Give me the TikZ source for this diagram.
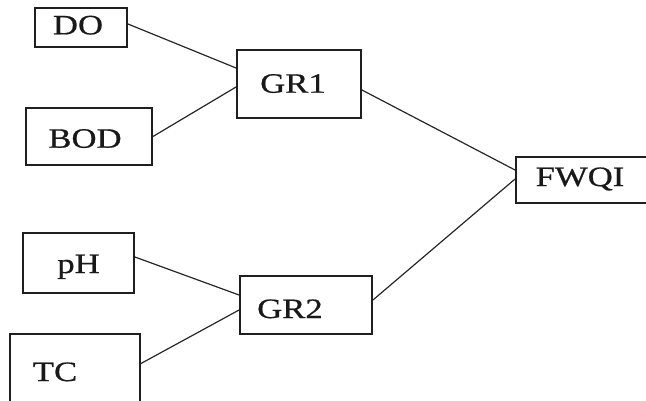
\documentclass[tikz,border=0pt]{standalone}
\usepackage{fontspec}
\setmainfont{Liberation Serif}
\newfontfamily\boxfont[FakeBold=0.6]{Liberation Serif}
\begin{document}
\begin{tikzpicture}[x=1pt,y=-1pt,
  box/.style={draw=black!88, line width=1.9pt, rectangle, inner sep=0pt},
  lbl/.style={anchor=base, inner sep=0pt, font=\boxfont\fontsize{28}{30}\selectfont, xscale=1.24, text=black!90},
  link/.style={draw=black!85, line width=1.2pt}]
  \useasboundingbox (0,0) rectangle (646,400);
  \clip (0,0) rectangle (646,400);

  % boxes
  \node[box, minimum width=92pt,  minimum height=39pt] (do)   at (81,27.5)  {};
  \node[box, minimum width=126pt, minimum height=57pt] (bod)  at (89,136.5) {};
  \node[box, minimum width=124pt, minimum height=68pt] (gr1)  at (299,84)   {};
  \node[box, minimum width=111pt, minimum height=60pt] (ph)   at (78.5,263) {};
  \node[box, minimum width=130pt, minimum height=86pt] (tc)   at (75,377)   {};
  \node[box, minimum width=132pt, minimum height=58pt] (gr2)  at (306,305)  {};
  \node[box, minimum width=144pt, minimum height=46pt] (fwqi) at (588,180)  {};

  % labels
  \node[lbl] (tdo)   at (78,34.3)  {DO};
  \node[lbl] (tbod)  at (85,147.7) {BOD};
  \node[lbl] (tgr1)  at (293,92.7) {GR1};
  \node[lbl] (tph)   at (78.5,273) {pH};
  \node[lbl] (ttc)   at (55,381)   {TC};
  \node[lbl] (tgr2)  at (290,318)  {GR2};
  \node[lbl] (tfwqi) at (580,186)  {FWQI};

  % connectors
  \draw[link] ([yshift=3.5pt]do.east)   -- ([yshift=16pt]gr1.west);
  \draw[link] (bod.east)                -- ([yshift=-3pt]gr1.west);
  \draw[link] ([yshift=-6pt]gr1.east)   -- ([yshift=10pt]fwqi.west);
  \draw[link] ([yshift=5pt]gr2.east)    -- ([yshift=1pt]fwqi.west);
  \draw[link] ([yshift=6pt]ph.east)     -- ([yshift=10pt]gr2.west);
  \draw[link] ([yshift=13.5pt]tc.east)  -- ([yshift=-5pt]gr2.west);
\end{tikzpicture}
\end{document}
